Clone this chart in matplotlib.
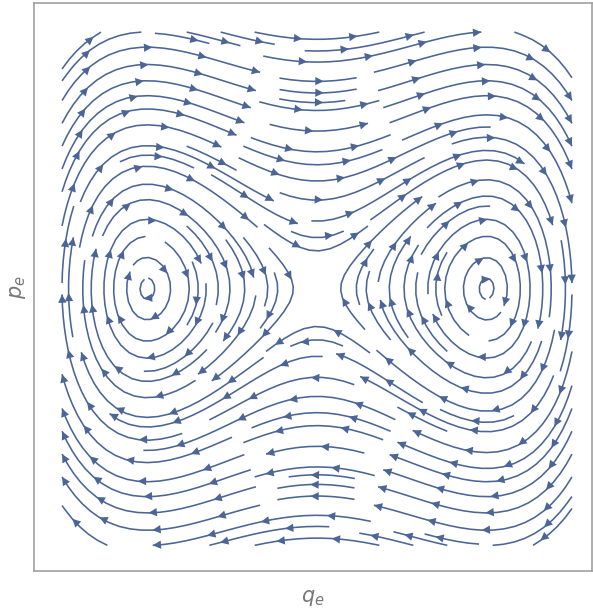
import numpy as np
import matplotlib
matplotlib.use('Agg')
import matplotlib.pyplot as plt
from matplotlib.patches import FancyArrowPatch

# double-well Hamiltonian H = p^2/2 - q^2/2 + q^4/4
q_range = [-1.5, 1.5]
p_range = [-1.5, 1.5]
n_grid = 200

q = np.linspace(q_range[0], q_range[1], n_grid)
p = np.linspace(p_range[0], p_range[1], n_grid)
Q, P = np.meshgrid(q, p)
dq = P
dp = Q - Q**3
# leave the saddle empty like the reference
hole = (Q**2 + P**2) < 0.12**2
dq = np.ma.masked_where(hole, dq)
dp = np.ma.masked_where(hole, dp)

line_color = '#4a6596'
text_color = '#777777'

fig = plt.figure(figsize=(5.93, 6.08), dpi=100)
ax = fig.add_axes([34/593, 37/608, 558/593, 568/608])
ax.set_xlim(-1.665, 1.618)
ax.set_ylim(-1.65, 1.67)

sp = ax.streamplot(Q, P, dq, dp, density=1.55, color=line_color, linewidth=1.15,
                   arrowsize=0.01, maxlength=0.9)
for patch in list(ax.patches):
    patch.remove()

# several arrows along each streamline, every ~62 px
spacing = 62.0
first = 30.0
for seg in sp.lines.get_segments():
    if len(seg) < 3:
        continue
    pix = ax.transData.transform(seg)
    d = np.hypot(*np.diff(pix, axis=0).T)
    s = np.concatenate([[0], np.cumsum(d)])
    total = s[-1]
    if total < 25:
        continue
    pos = first if total > 2 * first else total / 2
    while pos < total - 5:
        i = np.searchsorted(s, pos)
        i = min(max(i, 1), len(seg) - 1)
        j = min(i + 1, len(seg) - 1)
        a = FancyArrowPatch(seg[i - 1], seg[j], arrowstyle='-|>', mutation_scale=15,
                            color=line_color, linewidth=0, shrinkA=0, shrinkB=0)
        ax.add_patch(a)
        pos += spacing

ax.set_xticks([])
ax.set_yticks([])
for s in ax.spines.values():
    s.set_color('#a0a0a0')
    s.set_linewidth(1.2)

ax.set_xlabel('$q_e$', fontsize=15, color=text_color, labelpad=12)
ax.set_ylabel('$p_e$', fontsize=15, color=text_color, labelpad=4)

fig.savefig('out.png', dpi=100)
